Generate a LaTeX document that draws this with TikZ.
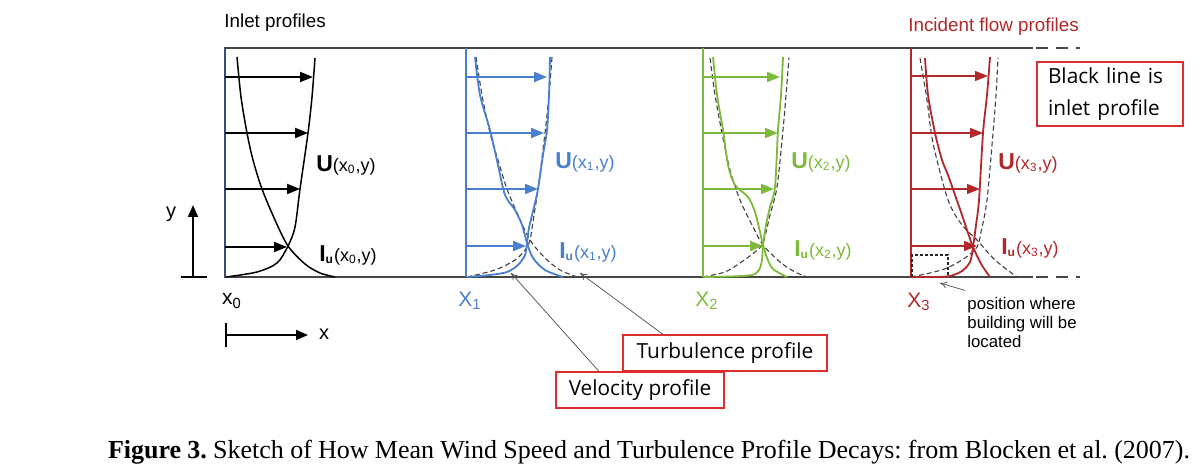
\documentclass[tikz,border=0pt]{standalone}
\usepackage{fontspec}
\setmainfont{Liberation Serif}
\setsansfont{Liberation Sans}
\newfontfamily\opensans{Open Sans}
\usetikzlibrary{arrows.meta}
\definecolor{cblue}{RGB}{74,127,208}
\definecolor{cgreen}{RGB}{125,185,58}
\definecolor{cred}{RGB}{176,40,42}
\definecolor{boxred}{RGB}{222,45,45}
\definecolor{wallgray}{RGB}{70,70,70}
\definecolor{inletblue}{RGB}{60,75,110}
\newcommand\Ulab[1]{{\fontsize{11.5}{12}\selectfont\bfseries U}(x\textsubscript{#1},y)}
\newcommand\Ilab[1]{{\fontsize{11.5}{12}\selectfont\bfseries I}\textsubscript{\bfseries u}(x\textsubscript{#1},y)}
\begin{document}
\frenchspacing
\begin{tikzpicture}[x=0.5pt,y=-0.5pt,
  wall/.style={draw=wallgray,line width=1pt},
  prof/.style={line width=0.9pt},
  dprof/.style={draw=black!75,dash pattern=on 2.5pt off 1.5pt,line width=0.55pt},
  flowarrow/.style={line width=1pt,-{Triangle[length=6.5pt,width=5pt]}},
  thinarrow/.style={line width=0.6pt,-{Triangle[length=6.5pt,width=5pt]}},
  lbl/.style={font=\sffamily\fontsize{9}{10}\selectfont,inner sep=0pt},
  title/.style={font=\sffamily\fontsize{9.4}{11}\selectfont,inner sep=0pt},
  callout/.style={draw=boxred,line width=0.6pt,font=\opensans\fontsize{10.4}{16}\selectfont,inner sep=0pt},
  leader/.style={draw=black!70,line width=0.35pt,-{To[length=3.5pt,width=3.5pt]}}]
\useasboundingbox (0,0) rectangle (1202,475);
% walls
\draw[wall] (224,48) -- (1033,48);
\draw[wall,dash pattern=on 6pt off 4pt] (1036,48) -- (1080,48);
\draw[wall] (224,277) -- (1033,277);
\draw[wall,dash pattern=on 6pt off 4pt] (1036,277) -- (1080,277);
% titles
\node[title,anchor=west] (tin) at (224,23) {Inlet profiles};
\node[title,anchor=west,text=cred] (tinc) at (908,27) {Incident flow profiles};
% ---------- inlet profile x0 ----------
\draw[draw=inletblue,line width=0.9pt] (225,48) -- (225,277);
\draw[prof,line width=0.75pt] plot[smooth] coordinates {(226,277) (257,272) (277,263) (288,246) (295,227) (300,189) (308,133) (312,97) (315,58)};
\draw[prof,line width=0.75pt] plot[smooth] coordinates {(237,57) (241,97) (247,133) (253,160) (262,189) (275,220) (288,246) (305,264) (320,273) (335,277)};
\draw[flowarrow] (225,77) -- (313,77);
\draw[flowarrow] (225,133) -- (308,133);
\draw[flowarrow] (225,189) -- (300,189);
\draw[flowarrow] (225,247) -- (287,247);
\node[lbl] (u0) at (346,165) {\Ulab{0}};
\node[lbl] (i0) at (348,255) {\Ilab{0}};
\node[lbl] (x0) at (232,301) {\fontsize{10.5}{11}\selectfont x\textsubscript{0}};
% ---------- x1 (blue) ----------
\draw[dprof] plot[smooth] coordinates {(467,277) (495,270) (515,260) (525,250) (530,240) (534,215) (538,189) (545,133) (549,95) (552,57)};
\draw[dprof] plot[smooth] coordinates {(476,57) (482,95) (490,133) (498,160) (507,189) (518,215) (530,240) (545,258) (560,270) (577,277)};
\draw[draw=cblue,line width=0.9pt] (466,48) -- (466,277);
\draw[prof,cblue] plot[smooth] coordinates {(467,277) (490,275) (507,272) (518,265) (525,255) (527,243) (529,228) (534,207) (538,189) (543,155) (547,130) (549,95) (550,57)};
\draw[prof,cblue] plot[smooth] coordinates {(475,57) (480,95) (490,130) (498,165) (505,195) (515,210) (522,225) (527,243) (533,258) (545,270) (563,277)};
\draw[flowarrow,cblue] (466,77) -- (547,77);
\draw[flowarrow,cblue] (466,133) -- (544,133);
\draw[flowarrow,cblue] (466,189) -- (538,189);
\draw[flowarrow,cblue] (466,246) -- (526,246);
\node[lbl,text=cblue] (u1) at (585,162) {\Ulab{1}};
\node[lbl,text=cblue] (i1) at (588,252) {\Ilab{1}};
\node[lbl,text=cblue] (x1) at (470,301) {\fontsize{10.5}{11}\selectfont X\textsubscript{1}};
% ---------- x2 (green) ----------
\draw[dprof] plot[smooth] coordinates {(703,277) (725,272) (740,263) (755,252) (763,243) (770,215) (777,187) (783,130) (786,95) (789,58)};
\draw[dprof] plot[smooth] coordinates {(710,58) (715,95) (722,133) (730,170) (740,200) (752,225) (763,245) (780,262) (795,272) (810,278)};
\draw[draw=cgreen,line width=0.9pt] (703,48) -- (703,277);
\draw[prof,cgreen] plot[smooth] coordinates {(703,277) (730,276.5) (752,275) (759,270) (762,260) (763,245) (766,225) (770,207) (775,187) (778,130) (781,95) (783,57)};
\draw[prof,cgreen] plot[smooth] coordinates {(713,57) (717,95) (723,130) (728,165) (735,185) (748,197) (755,212) (760,232) (763,245) (767,258) (773,269) (787,277)};
\draw[flowarrow,cgreen] (703,77) -- (780,77);
\draw[flowarrow,cgreen] (703,133) -- (778,133);
\draw[flowarrow,cgreen] (703,189) -- (774,189);
\draw[flowarrow,cgreen] (703,246) -- (763,246);
\node[lbl,text=cgreen] (u2) at (821,162) {\Ulab{2}};
\node[lbl,text=cgreen] (i2) at (823,250) {\Ilab{2}};
\node[lbl,text=cgreen] (x2) at (707,301) {\fontsize{10.5}{11}\selectfont X\textsubscript{2}};
% ---------- x3 (red) ----------
\draw[dprof] plot[smooth] coordinates {(911,277) (930,273) (947,268) (965,258) (977,247) (981,232) (987,200) (993,133) (996,95) (998,58)};
\draw[dprof] plot[smooth] coordinates {(920,58) (927,100) (933,143) (948,200) (962,225) (977,240) (995,260) (1017,277)};
\draw[draw=cred,line width=0.6pt] (911,48) -- (911,277);
\draw[prof,cred] plot[smooth] coordinates {(911,277) (935,277) (950,276) (962,271) (970,262) (973,247) (976,225) (979,200) (983,133) (987,95) (990,57)};
\draw[prof,cred] plot[smooth] coordinates {(925,58) (928,95) (935,133) (942,160) (948,175) (955,195) (962,215) (968,233) (973,247) (980,262) (985,270) (990,277)};
\draw[thinarrow,cred] (911,76) -- (988,76);
\draw[thinarrow,cred] (911,133) -- (983,133);
\draw[thinarrow,cred] (911,189) -- (980,189);
\draw[thinarrow,cred] (911,246) -- (977,246);
\draw[black!85,line width=0.8pt,dash pattern=on 1.5pt off 1pt] (912,277) -- (912,255) -- (948,255) -- (948,277);
\node[lbl,text=cred] (u3) at (1028,163) {\Ulab{3}};
\node[lbl,text=cred] (i3) at (1030,248) {\Ilab{3}};
\node[lbl,text=cred] (x3) at (919,302) {\fontsize{10.5}{11}\selectfont X\textsubscript{3}};
\node[font=\sffamily\fontsize{8.4}{9.5}\selectfont,inner sep=0pt,align=left,anchor=west] (bld) at (967,322) {position where\\building will be\\located};
\coordinate (bldtip) at (940,283);
\draw[leader] ([xshift=-1pt,yshift=3pt]bld.north west) -- (bldtip);
% ---------- axes ----------
\draw[line width=0.9pt] (181,277) -- (207,277);
\draw[line width=0.9pt,-{Triangle[length=6pt,width=5pt]}] (193,277) -- (193,205);
\node[font=\sffamily\fontsize{10}{11}\selectfont,inner sep=0pt] (ylab) at (171,214) {y};
\draw[line width=0.9pt] (226,323) -- (226,347);
\draw[line width=0.9pt,-{Triangle[length=6pt,width=5pt]}] (226,335) -- (308,335);
\node[font=\sffamily\fontsize{10}{11}\selectfont,inner sep=0pt] (xlab) at (324,334) {x};
% ---------- callouts ----------
\node[callout,minimum width=73pt,minimum height=32pt,text width=62pt,align=left] (black) at (1110,94) {Black line is\\inlet profile};
\node[callout,minimum width=84pt,minimum height=18pt,fill=white] (vel) at (640,390) {Velocity profile};
\node[callout,minimum width=102pt,minimum height=18pt,fill=white] (turb) at (725,353) {Turbulence profile};
\coordinate (veltip) at (511,273);
\coordinate (turbtip) at (580,273);
\draw[leader] ([xshift=-20.5pt]vel.north) -- (veltip);
\draw[leader] ([xshift=-31pt]turb.north) -- (turbtip);
% ---------- caption ----------
\node[font=\fontsize{13}{15}\selectfont,inner sep=0pt] (cap) at (649,452) {\makebox[541pt][s]{\textbf{Figure 3.} Sketch of How Mean Wind Speed and Turbulence Profile Decays: from Blocken et al. (2007).}};
\end{tikzpicture}
\end{document}
